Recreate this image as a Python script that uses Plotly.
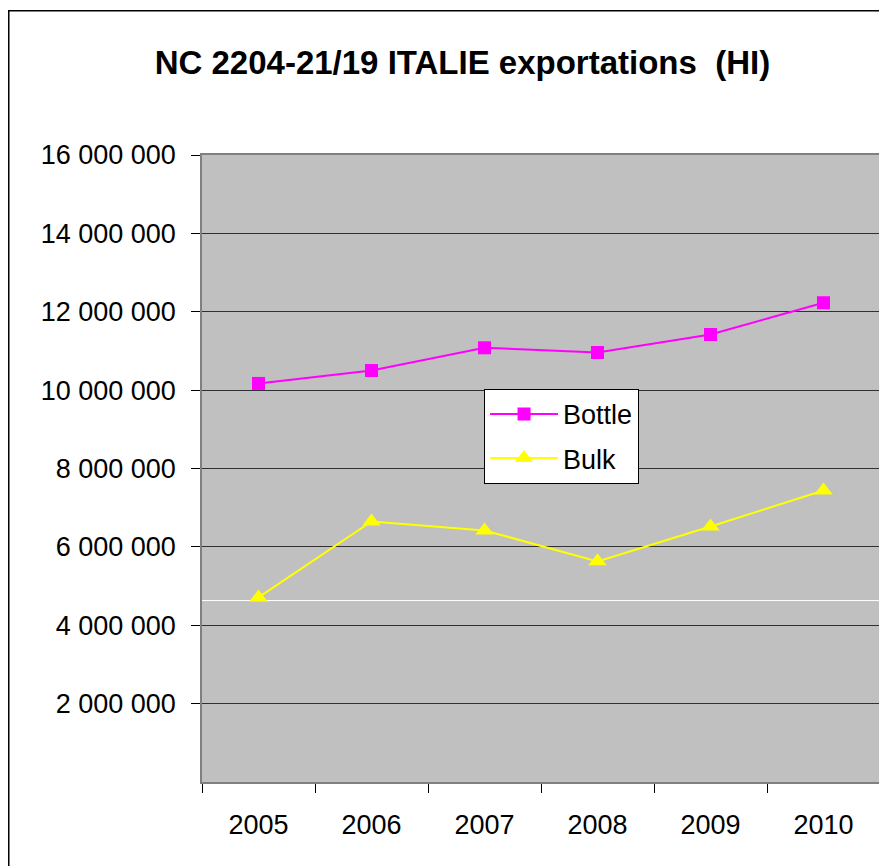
import plotly.graph_objects as go

years = ["2005", "2006", "2007", "2008", "2009", "2010"]
bottle = [10170000, 10500000, 11080000, 10960000, 11420000, 12230000]
bulk = [4710000, 6650000, 6420000, 5630000, 6520000, 7440000]
ytick_vals = [2000000, 4000000, 6000000, 8000000, 10000000, 12000000, 14000000, 16000000]
ytick_text = ["2 000 000", "4 000 000", "6 000 000", "8 000 000",
              "10 000 000", "12 000 000", "14 000 000", "16 000 000"]

font = "Liberation Sans, Arial, sans-serif"

fig = go.Figure()
fig.add_trace(go.Scatter(x=years, y=bottle, name="Bottle", mode="lines+markers",
                         legendgroup="a",
                         line=dict(color="#FF00FF", width=2),
                         marker=dict(symbol="square", size=13, color="#FF00FF")))
fig.add_trace(go.Scatter(x=years, y=bulk, name="Bulk", mode="lines+markers",
                         legendgroup="b",
                         line=dict(color="#FFFF00", width=2),
                         marker=dict(symbol="triangle-up", size=16, color="#FFFF00")))

# stray white line seen in the original plot area
fig.add_shape(type="line", xref="paper", yref="y", x0=0, x1=1, y0=4630000, y1=4630000,
              line=dict(color="white", width=1), layer="below")
# outer chart frame
fig.add_shape(type="rect", xref="paper", yref="paper", x0=-0.285, x1=1.2, y0=-0.5, y1=1.23,
              line=dict(color="black", width=1.5))

# page body has an 8px margin, so the figure is 8px smaller than the window
fig.update_layout(
    width=879, height=858,
    margin=dict(l=194, r=5, t=147, b=84),
    paper_bgcolor="white", plot_bgcolor="#C0C0C0",
    font=dict(family=font, size=27, color="black"),
    title=dict(text="<b>NC 2204-21/19 ITALIE exportations  (HI)</b>",
               font=dict(family=font, size=33, color="black"),
               x=0.517, xanchor="center", y=0.937, yanchor="middle"),
    legend=dict(x=0.416, y=0.627, xanchor="left", yanchor="top",
                bgcolor="white", bordercolor="black", borderwidth=1,
                font=dict(family=font, size=27), traceorder="grouped",
                tracegroupgap=6, itemwidth=68),
    showlegend=True,
)
fig.update_xaxes(type="category", range=[-0.5, 5.5], tickson="boundaries",
                 ticks="outside", ticklen=9, tickcolor="black", showgrid=False,
                 showline=True, linecolor="#808080", linewidth=1.5, mirror=True,
                 ticklabelstandoff=18, tickfont=dict(size=27))
fig.update_yaxes(range=[0, 16000000], tickvals=ytick_vals, ticktext=ytick_text,
                 ticks="outside", ticklen=9, tickcolor="black",
                 showgrid=True, gridcolor="#303030", gridwidth=1,
                 showline=True, linecolor="#808080", linewidth=1.5, mirror=True,
                 zeroline=False, ticklabelstandoff=10, tickfont=dict(size=27))

fig.write_html("out.html")
